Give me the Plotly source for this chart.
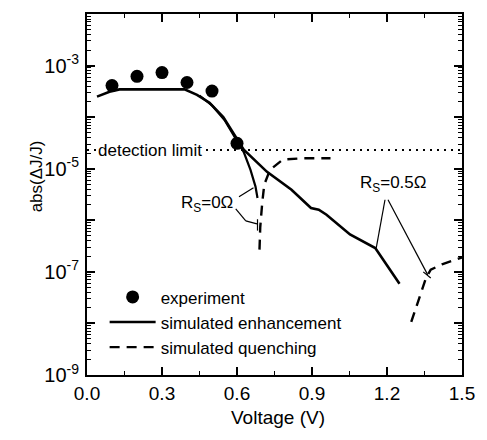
import plotly.graph_objects as go

# experiment
exp_v = [0.1, 0.2, 0.3, 0.4, 0.5, 0.6]
exp_val = [4.1e-4, 6.2e-4, 7.3e-4, 4.7e-4, 3.2e-4, 3.1e-5]

# simulated enhancement, Rs = 0.5 ohm
enh_v = [0.04, 0.09, 0.13, 0.25, 0.39, 0.44, 0.49, 0.545, 0.595, 0.627,
         0.72, 0.818, 0.896, 0.927, 0.958, 1.052, 1.153, 1.25]
enh_val = [2.5e-4, 3.1e-4, 3.45e-4, 3.5e-4, 3.45e-4, 2.7e-4, 1.9e-4, 1.0e-4, 4.2e-5, 2.35e-5,
           8.7e-6, 3.9e-6, 1.73e-6, 1.6e-6, 1.28e-6, 5.3e-7, 2.9e-7, 5.9e-8]

# simulated enhancement, Rs = 0 ohm
enh0_v = [0.45, 0.50, 0.55, 0.595, 0.627, 0.654, 0.674, 0.682]
enh0_val = [2.6e-4, 1.7e-4, 8.8e-5, 3.9e-5, 2.1e-5, 9.5e-6, 4.5e-6, 2.7e-6]

# simulated quenching
q0_v = [0.690, 0.693, 0.701, 0.709, 0.732, 0.783, 0.869, 0.974]
q0_val = [2.7e-7, 7.4e-7, 2.2e-6, 4.9e-6, 9.5e-6, 1.5e-5, 1.6e-5, 1.6e-5]
q5_v = [1.297, 1.328, 1.356, 1.375, 1.42, 1.5]
q5_val = [1.07e-8, 2.9e-8, 7.6e-8, 1.1e-7, 1.4e-7, 1.9e-7]

det_limit = 2.3e-5

FONT = "Liberation Sans, Arial, sans-serif"

fig = go.Figure()

fig.add_trace(go.Scatter(x=[0, 1.5], y=[det_limit, det_limit], mode="lines",
                         line=dict(color="black", width=2, dash="2px,5px"),
                         showlegend=False, hoverinfo="skip"))
fig.add_trace(go.Scatter(x=exp_v, y=exp_val, mode="markers", name="experiment",
                         marker=dict(color="black", size=13)))
fig.add_trace(go.Scatter(x=enh_v, y=enh_val, mode="lines", name="simulated enhancement",
                         line=dict(color="black", width=2.6)))
fig.add_trace(go.Scatter(x=enh0_v, y=enh0_val, mode="lines", showlegend=False,
                         line=dict(color="black", width=2.2)))
fig.add_trace(go.Scatter(x=q0_v, y=q0_val, mode="lines", name="simulated quenching",
                         line=dict(color="black", width=2.4, dash="10px,7px")))
fig.add_trace(go.Scatter(x=q5_v, y=q5_val, mode="lines", showlegend=False,
                         line=dict(color="black", width=2.4, dash="10px,7px")))

# leader lines for the Rs labels
leaders = [
    (0.608, 10**-5.544, 0.666, 10**-5.369),
    (0.595, 10**-5.78, 0.635, 10**-6.01),
    (0.635, 10**-6.01, 0.68, 10**-6.07),
    (0.682, 10**-5.98, 0.682, 10**-6.20),
    (1.192, 10**-5.602, 1.157, 10**-6.534),
    (1.204, 10**-5.602, 1.363, 10**-7.058),
    (1.345, 10**-7.0, 1.375, 10**-7.12),
]
for x0, y0, x1, y1 in leaders:
    fig.add_shape(type="line", x0=x0, y0=y0, x1=x1, y1=y1,
                  line=dict(color="black", width=1.2))

fig.add_annotation(x=0.253, y=-4.638, text="detection limit", showarrow=False,
                   bgcolor="white", font=dict(size=17, color="black", family=FONT))
fig.add_annotation(x=0.479, y=-5.68, text="R<sub>S</sub>=0\u03a9", showarrow=False,
                   font=dict(size=17, color="black", family=FONT))
fig.add_annotation(x=1.224, y=-5.29, text="R<sub>S</sub>=0.5\u03a9", showarrow=False,
                   font=dict(size=17, color="black", family=FONT))
fig.add_annotation(x=-0.166, y=0.551, xref="paper", yref="paper", text="abs(\u0394J/J)",
                   textangle=-90, showarrow=False,
                   font=dict(size=17, color="black", family=FONT))
fig.add_annotation(x=0.509, y=-0.152, xref="paper", yref="paper", text="Voltage (V)",
                   showarrow=False, font=dict(size=19, color="black", family=FONT))

y_major = [10.0**k for k in range(-9, -1)]
y_text = ["10<sup>%d</sup>" % k if k % 2 else "" for k in range(-9, -1)]
y_minor = [m * 10.0**k for k in range(-9, -2) for m in range(2, 10)]

fig.update_xaxes(range=[0, 1.5], tickvals=[0, 0.3, 0.6, 0.9, 1.2, 1.5], tickformat=".1f",
                 ticks="inside", ticklen=8, tickwidth=1.5, tickcolor="black",
                 minor=dict(ticks="inside", ticklen=4, tickwidth=1.2, dtick=0.15, tickcolor="black"),
                 showline=True, linecolor="black", linewidth=2, mirror="ticks",
                 showgrid=False, zeroline=False,
                 tickfont=dict(size=19, color="black", family=FONT))
fig.update_yaxes(type="log", range=[-9, -2], tickvals=y_major, ticktext=y_text,
                 ticks="inside", ticklen=8, tickwidth=1.5, tickcolor="black",
                 minor=dict(ticks="inside", ticklen=4, tickwidth=1, tickvals=y_minor, tickcolor="black"),
                 showline=True, linecolor="black", linewidth=2, mirror="ticks",
                 showgrid=False, zeroline=False, ticklabelstandoff=2,
                 tickfont=dict(size=20, color="black", family=FONT))

fig.update_layout(width=487, height=440, margin=dict(l=87, r=15, t=14, b=65),
                  plot_bgcolor="white", paper_bgcolor="white",
                  font=dict(family=FONT, color="black"),
                  legend=dict(x=0.047, y=0.265, xanchor="left", yanchor="top",
                              bgcolor="rgba(0,0,0,0)", itemwidth=46,
                              font=dict(size=17, color="black", family=FONT)))

# drop the default page margin so the figure sits at the window's corner
fig.write_html("out.html", config={"displayModeBar": False},
               post_script="document.body.style.margin='0';document.body.style.overflow='hidden';")
